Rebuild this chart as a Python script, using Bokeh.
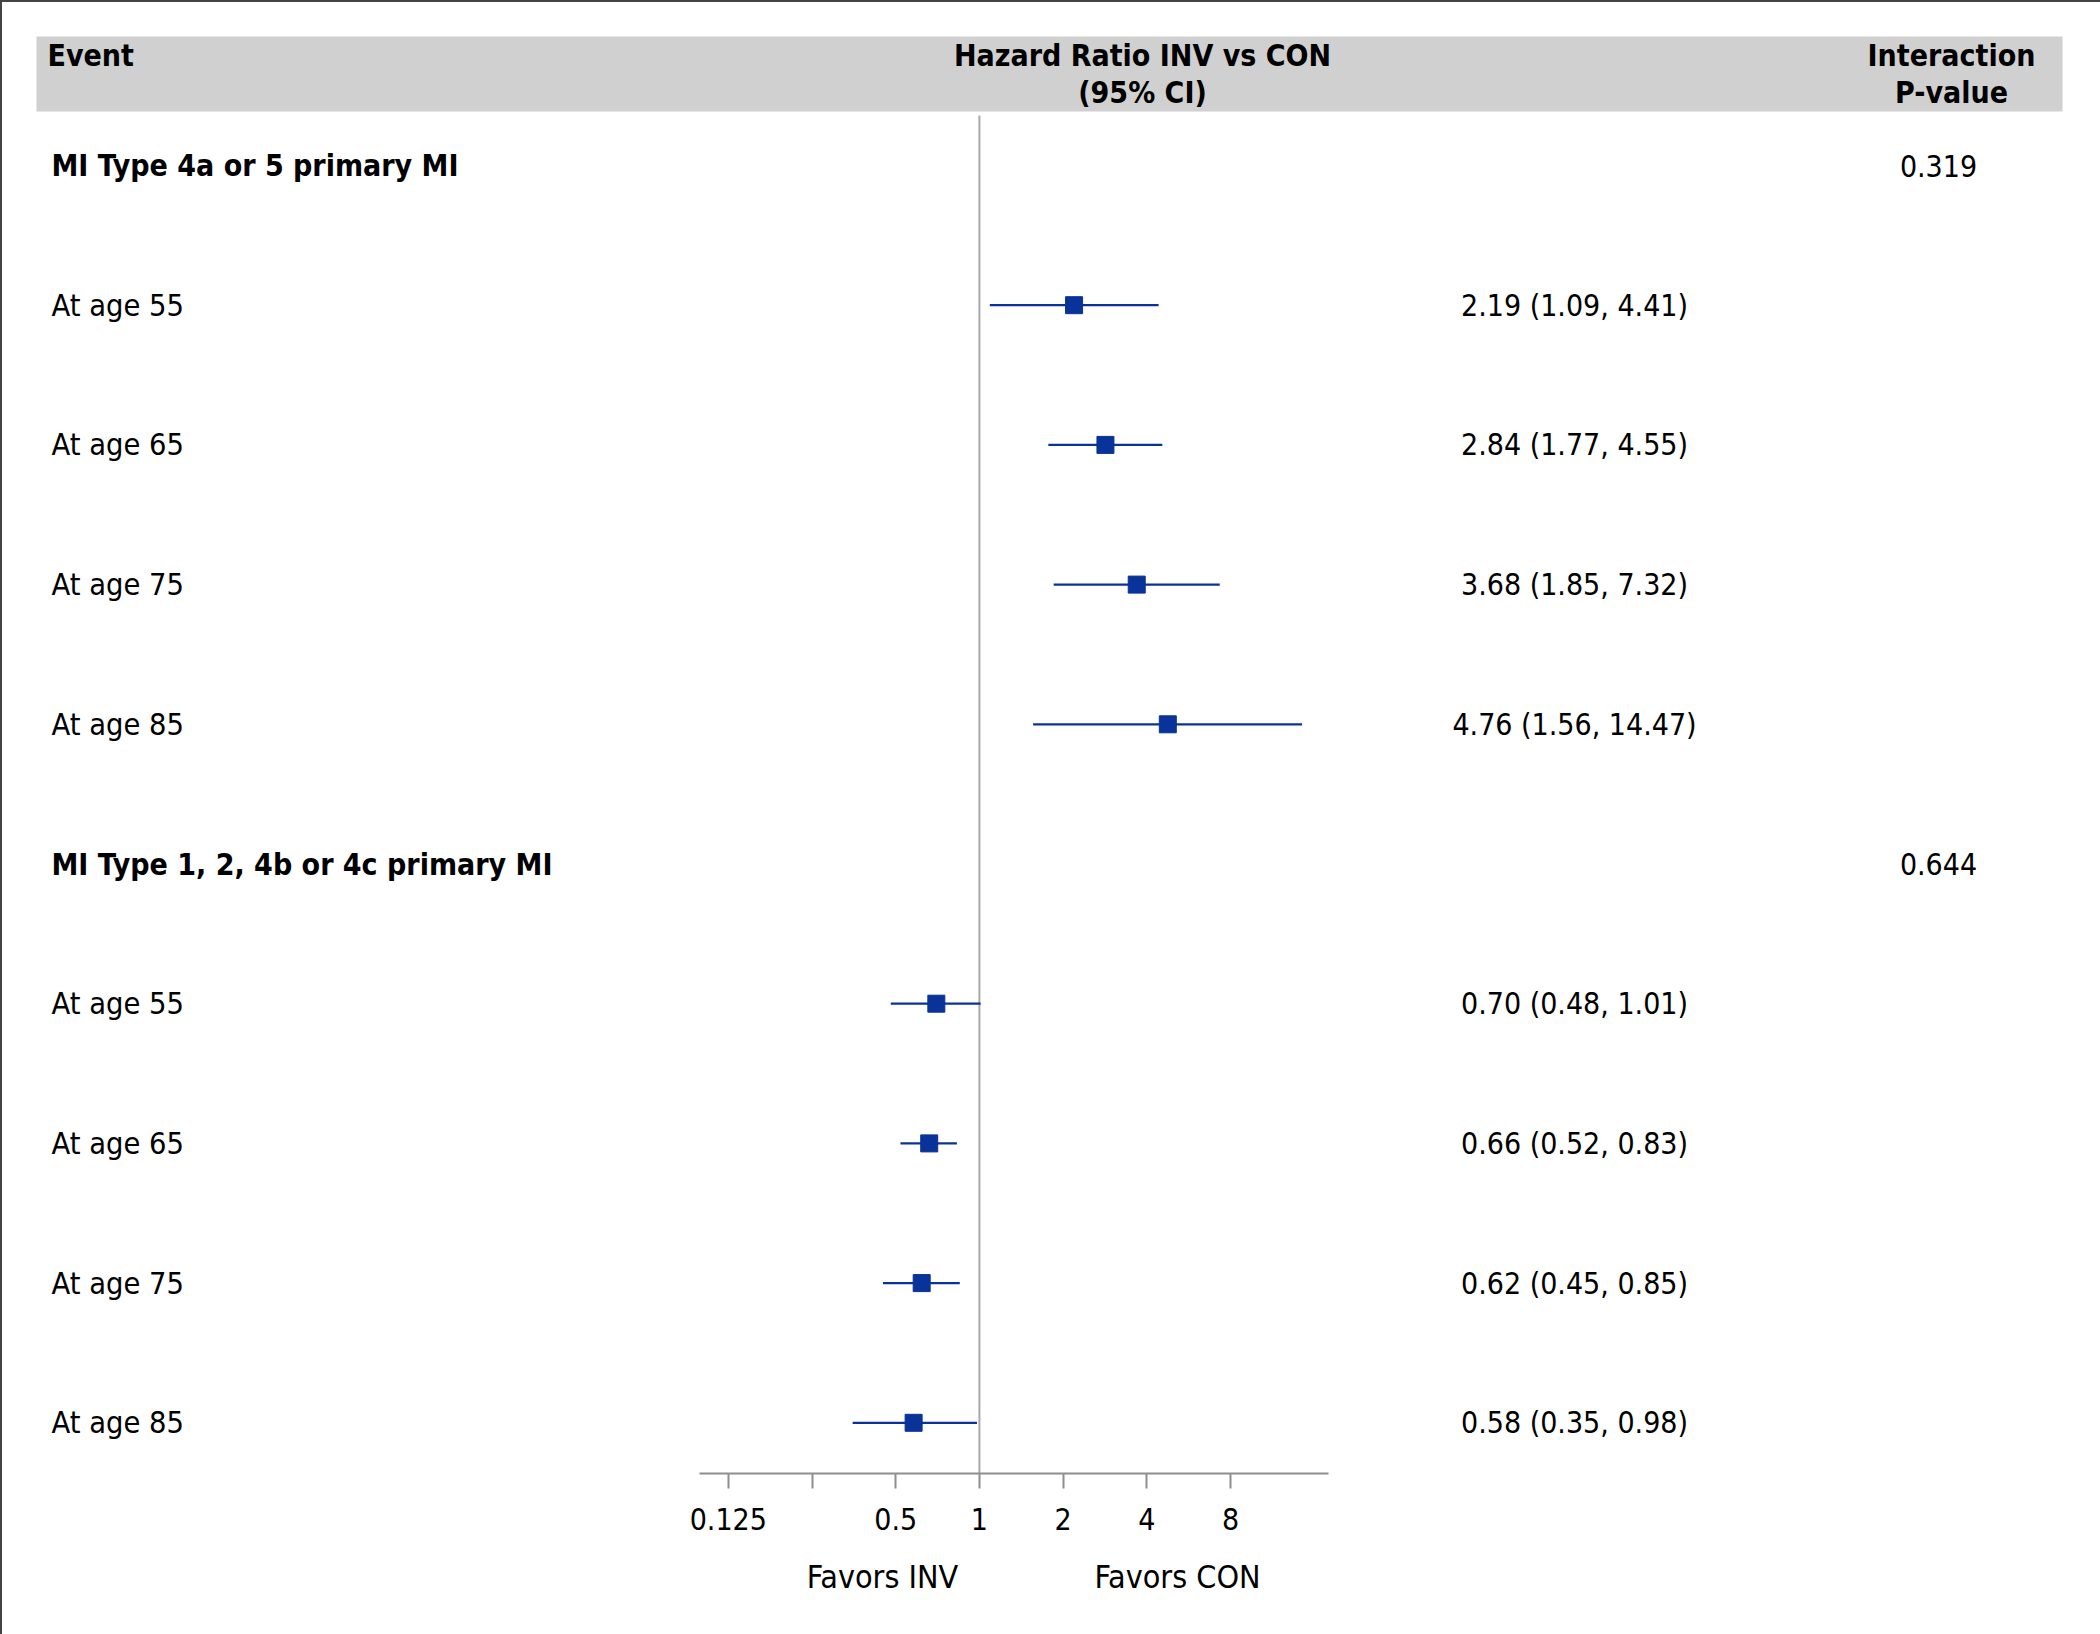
import math
from bokeh.plotting import figure
from bokeh.models import Range1d, LogScale, LogAxis, FixedTicker, ColumnDataSource
from bokeh.core.properties import value
from bokeh.embed import file_html
from bokeh.resources import INLINE

# ---------------- data ----------------
groups = ["MI Type 4a or 5 primary MI", "MI Type 1, 2, 4b or 4c primary MI"]
p_values = ["0.319", "0.644"]
ages = ["At age 55", "At age 65", "At age 75", "At age 85"]
hr_g1 = [2.19, 2.84, 3.68, 4.76]
lo_g1 = [1.09, 1.77, 1.85, 1.56]
hi_g1 = [4.41, 4.55, 7.32, 14.47]
hr_g2 = [0.70, 0.66, 0.62, 0.58]
lo_g2 = [0.48, 0.52, 0.45, 0.35]
hi_g2 = [1.01, 0.83, 0.85, 0.98]
tick_values = [0.125, 0.25, 0.5, 1, 2, 4, 8]
tick_labels = ["0.125", "", "0.5", "1", "2", "4", "8"]
favor_labels = ["Favors INV", "Favors CON"]
favor_at = [0.448, 5.16]
null_value = 1

# ---------------- layout constants (pixels) ----------------
W, H = 2100, 1634
FRAME_BOTTOM = 1473
ROW0 = 165.0
STEP = 139.7
X_ONE = 978.9
PX_PER_DOUBLING = 83.7
FONT = "DejaVu Sans Condensed"
BLUE = "#0a3399"
GREY = "#8e8e8e"

def ypx(px):
    return (px - ROW0) / STEP

# build rows
rows_label, rows_bold, rows_y = [], [], []
pt_y, pt_hr, pt_lo, pt_hi, ci_txt = [], [], [], [], []
pv_y, pv_txt = [], []
r = 0
for g, pv, hrs, los, his in [(groups[0], p_values[0], hr_g1, lo_g1, hi_g1),
                             (groups[1], p_values[1], hr_g2, lo_g2, hi_g2)]:
    rows_label.append(g); rows_bold.append(True); rows_y.append(r)
    pv_y.append(r); pv_txt.append(pv)
    r += 1
    for a, h, l, u in zip(ages, hrs, los, his):
        rows_label.append(a); rows_bold.append(False); rows_y.append(r)
        pt_y.append(r); pt_hr.append(h); pt_lo.append(l); pt_hi.append(u)
        ci_txt.append(f"{h:.2f} ({l:.2f}, {u:.2f})")
        r += 1

y_top = ypx(0)
y_bot = ypx(FRAME_BOTTOM)

p = figure(width=W, height=H, x_range=Range1d(0, W), y_range=Range1d(y_bot, y_top),
           output_backend="svg", toolbar_location=None,
           x_axis_location=None, y_axis_location=None,
           min_border_left=0, min_border_right=0, min_border_top=0, min_border_bottom=H - FRAME_BOTTOM)
p.outline_line_color = None
p.xgrid.visible = False
p.ygrid.visible = False
p.background_fill_color = None
p.border_fill_color = None
# dark edge on top and left of the original image
p.styles = {"background-color": "white", "box-shadow": "inset 2px 2px 0 #444444"}

hr_lo = 2 ** (-X_ONE / PX_PER_DOUBLING)
hr_hi = 2 ** ((W - X_ONE) / PX_PER_DOUBLING)
p.extra_x_ranges = {"hr": Range1d(hr_lo, hr_hi)}
p.extra_x_scales = {"hr": LogScale()}

# header band
p.quad(left=[36], right=[2062], top=[ypx(36)], bottom=[ypx(111)],
       fill_color="#d0d0d0", line_color=None)

fs = "30px"
def txt(xs, ys, texts, align="left", bold=False, size=fs):
    p.text(x=xs, y=ys, text=texts, text_font=value(FONT), text_font_size=size,
           text_font_style="bold" if bold else "normal", text_align=align,
           text_baseline="middle", text_color="black")

# header texts
txt([47], [ypx(55)], ["Event"], bold=True)
txt([1142, 1142], [ypx(55), ypx(92)], ["Hazard Ratio INV vs CON", "(95% CI)"], align="center", bold=True)
txt([1951, 1951], [ypx(55), ypx(92)], ["Interaction", "P-value"], align="center", bold=True)

# row labels
bl = [l for l, b in zip(rows_label, rows_bold) if b]
by = [y for y, b in zip(rows_y, rows_bold) if b]
nl = [l for l, b in zip(rows_label, rows_bold) if not b]
ny = [y for y, b in zip(rows_y, rows_bold) if not b]
txt([51] * len(bl), by, bl, bold=True)
txt([51] * len(nl), ny, nl, size="30.5px")
txt([1574] * len(ci_txt), pt_y, ci_txt, align="center")
txt([1938] * len(pv_txt), pv_y, pv_txt, align="center")

# reference line
p.segment(x0=[null_value], x1=[null_value], y0=[ypx(115)], y1=[y_bot],
          x_range_name="hr", line_color="#a8a8a8", line_width=2)

# CIs and points
src = ColumnDataSource(dict(y=pt_y, hr=pt_hr, lo=pt_lo, hi=pt_hi))
p.segment(x0="lo", x1="hi", y0="y", y1="y", source=src, x_range_name="hr",
          line_color=BLUE, line_width=2.2)
p.scatter(x="hr", y="y", source=src, x_range_name="hr", marker="square", size=17,
          fill_color=BLUE, line_color=BLUE)

# x axis
ax = LogAxis(x_range_name="hr", ticker=FixedTicker(ticks=tick_values),
             bounds=(2 ** ((699 - X_ONE) / PX_PER_DOUBLING), 2 ** ((1328 - X_ONE) / PX_PER_DOUBLING)))
ax.major_label_overrides = {float(t): l for t, l in zip(tick_values, tick_labels)}
ax.axis_line_color = GREY
ax.axis_line_width = 2
ax.major_tick_line_color = GREY
ax.major_tick_line_width = 2
ax.major_tick_in = 0
ax.major_tick_out = 15
ax.minor_tick_line_color = None
ax.major_label_standoff = 19
ax.major_label_text_font = FONT
ax.major_label_text_font_size = fs
ax.major_label_text_color = "black"
p.add_layout(ax, "below")

ax2 = LogAxis(x_range_name="hr", ticker=FixedTicker(ticks=favor_at))
ax2.major_label_overrides = {float(t): l for t, l in zip(favor_at, favor_labels)}
ax2.axis_line_color = None
ax2.major_tick_line_color = None
ax2.minor_tick_line_color = None
ax2.major_tick_in = 0
ax2.major_tick_out = 0
ax2.major_label_standoff = 25
ax2.major_label_text_font = FONT
ax2.major_label_text_font_size = "32px"
ax2.major_label_text_color = "black"
p.add_layout(ax2, "below")

open("out.html", "w").write(file_html(p, INLINE))
